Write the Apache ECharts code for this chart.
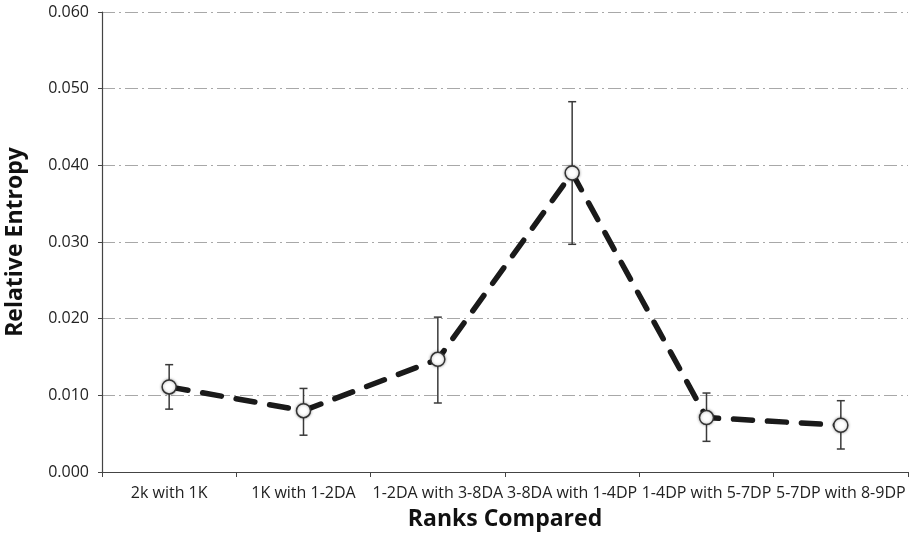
<!DOCTYPE html>
<html>
<head>
<meta charset="utf-8">
<script src="https://cdn.jsdelivr.net/npm/echarts@6/dist/echarts.min.js"></script>
<style>
  html, body { margin: 0; padding: 0; background: #fff; }
  #chart { width: 910px; height: 540px; }
</style>
</head>
<body>
<div id="chart"></div>
<script>
var myChart = echarts.init(document.getElementById('chart'));

var categories = ['2k with 1K', '1K with 1-2DA', '1-2DA with 3-8DA', '3-8DA with 1-4DP', '1-4DP with 5-7DP', '5-7DP with 8-9DP'];
var entropy = [0.0111, 0.0080, 0.0147, 0.0390, 0.0071, 0.0061];
var errLow = [0.0082, 0.0048, 0.0090, 0.0297, 0.0040, 0.0030];
var errHigh = [0.0140, 0.0109, 0.0202, 0.0483, 0.0103, 0.0093];
var yTicks = [0, 0.01, 0.02, 0.03, 0.04, 0.05, 0.06];

var errData = [];
for (var i = 0; i < categories.length; i++) {
    errData.push([i, errLow[i], errHigh[i]]);
}

var fontBody = 'Open Sans';
var fontTitle = 'Open Sans';

myChart.setOption({
    backgroundColor: '#fff',
    animation: false,
    grid: {
        left: 102,
        right: 2,
        top: 12,
        bottom: 68,
        outerBoundsMode: 'none'
    },
    xAxis: {
        type: 'category',
        data: categories,
        boundaryGap: true,
        name: 'Ranks Compared',
        nameLocation: 'middle',
        nameGap: 36,
        nameTextStyle: {
            fontFamily: fontTitle,
            fontWeight: 'bold',
            fontSize: 23,
            color: '#111'
        },
        axisLine: {lineStyle: {color: '#444', width: 1.2}},
        axisTick: {show: true, length: 5, lineStyle: {color: '#444'}},
        axisLabel: {
            interval: 0,
            margin: 13,
            fontFamily: fontBody,
            fontSize: 16,
            color: '#222'
        },
        splitLine: {show: false}
    },
    yAxis: {
        type: 'value',
        min: yTicks[0],
        max: yTicks[yTicks.length - 1],
        interval: 0.01,
        name: 'Relative Entropy',
        nameLocation: 'middle',
        nameGap: 75,
        nameTextStyle: {
            fontFamily: fontTitle,
            fontWeight: 'bold',
            fontSize: 23,
            color: '#111'
        },
        axisLine: {show: true, lineStyle: {color: '#444', width: 1.2}},
        axisTick: {show: true, length: 4, lineStyle: {color: '#444'}},
        axisLabel: {
            margin: 13,
            fontFamily: fontBody,
            fontSize: 16,
            color: '#222',
            formatter: function (v) { return v.toFixed(3); }
        },
        splitLine: {
            show: true,
            lineStyle: {color: '#a8a8a8', width: 1.2, type: [13, 4, 2, 4]}
        }
    },
    series: [
        {
            name: 'error',
            type: 'custom',
            z: 1,
            data: errData,
            renderItem: function (params, api) {
                var x = api.value(0);
                var lo = api.coord([x, api.value(1)]);
                var hi = api.coord([x, api.value(2)]);
                var cap = 4;
                var style = {stroke: '#3a3a3a', lineWidth: 1.5};
                return {
                    type: 'group',
                    children: [
                        {type: 'line', shape: {x1: lo[0], y1: lo[1], x2: hi[0], y2: hi[1]}, style: style},
                        {type: 'line', shape: {x1: lo[0] - cap, y1: lo[1], x2: lo[0] + cap, y2: lo[1]}, style: style},
                        {type: 'line', shape: {x1: hi[0] - cap, y1: hi[1], x2: hi[0] + cap, y2: hi[1]}, style: style}
                    ]
                };
            }
        },
        {
            name: 'Relative Entropy',
            type: 'line',
            z: 2,
            data: entropy,
            symbol: 'circle',
            symbolSize: 14,
            lineStyle: {
                color: '#1a1a1a',
                width: 5.5,
                type: [19, 15],
                cap: 'round'
            },
            itemStyle: {
                color: '#fff',
                borderColor: '#333',
                borderWidth: 1.5,
                shadowBlur: 3,
                shadowColor: 'rgba(0,0,0,0.35)'
            }
        }
    ]
});
</script>
</body>
</html>
